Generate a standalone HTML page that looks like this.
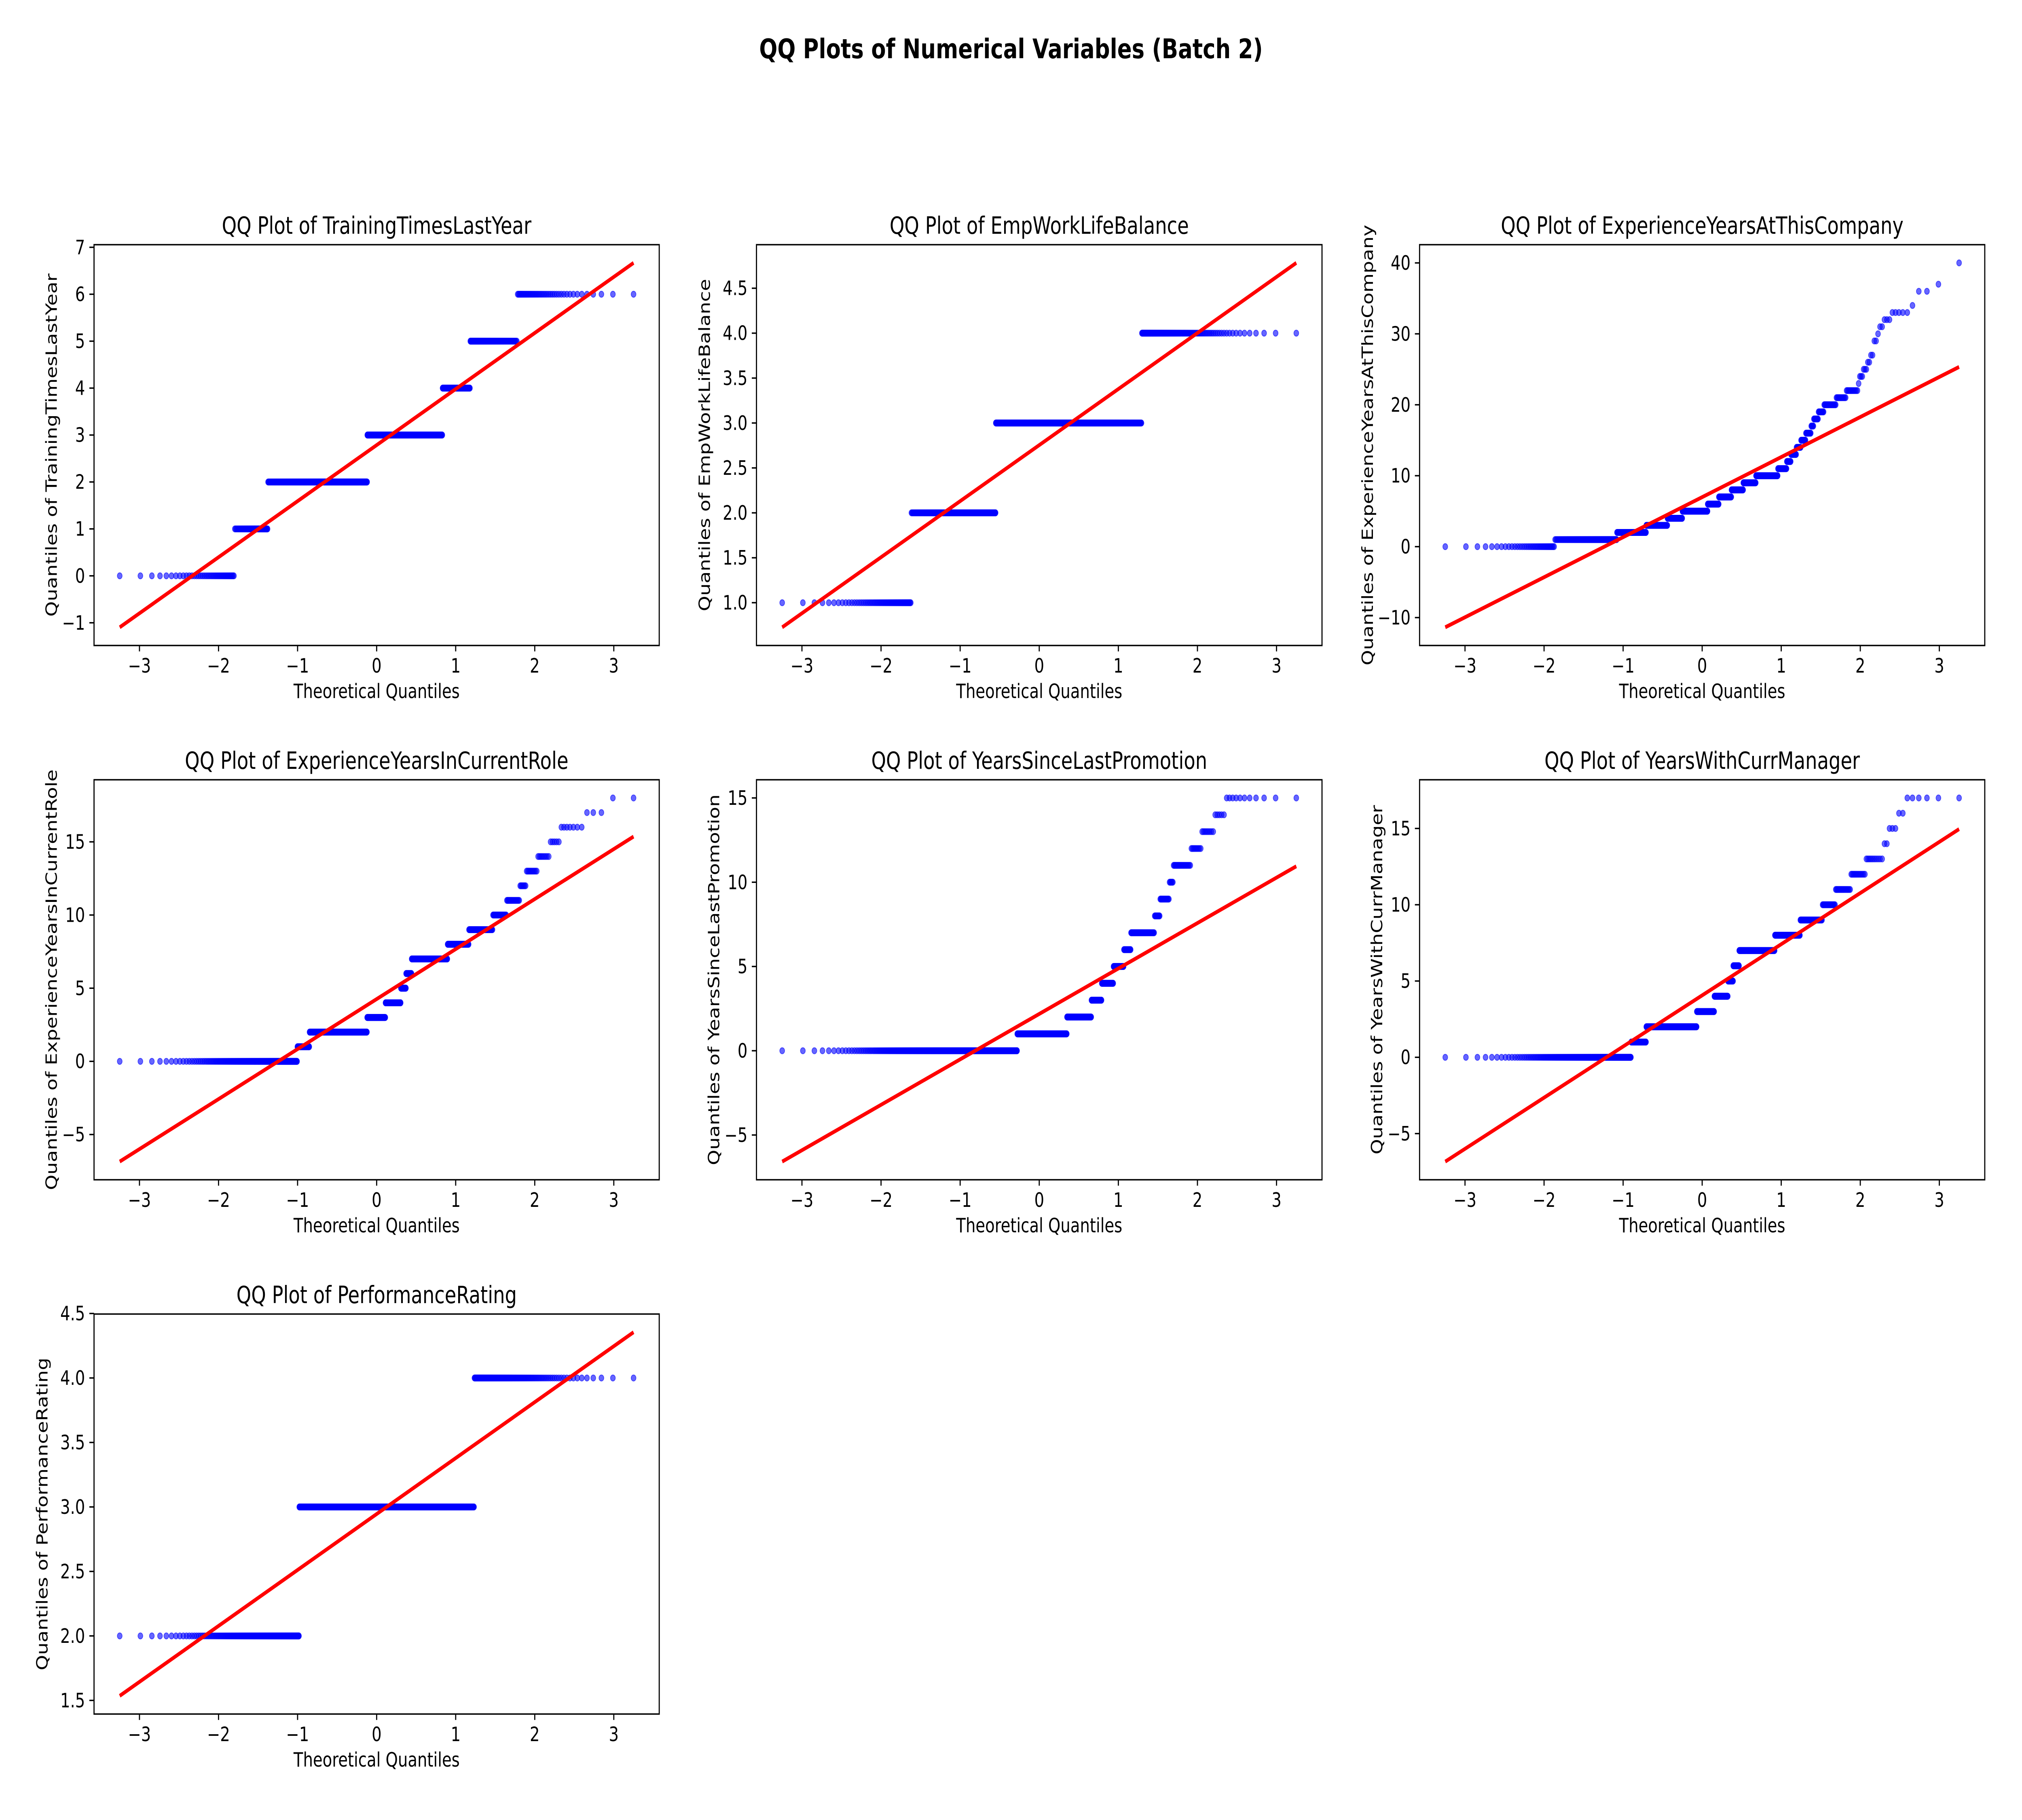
<!DOCTYPE html>
<html><head><meta charset="utf-8"><title>QQ Plots of Numerical Variables (Batch 2)</title>
<style>
html,body{margin:0;padding:0;background:#fff;width:100%;height:100%;overflow:hidden;}
svg{display:block;width:100vw;height:100vh;font-family:"DejaVu Sans","Liberation Sans",sans-serif;}
</style></head>
<body>
<svg id="fig" xmlns="http://www.w3.org/2000/svg" viewBox="0 0 6300 4500" preserveAspectRatio="none">
<rect x="0" y="0" width="6300" height="4500" fill="#fff"/>
<text x="3150" y="144" text-anchor="middle" font-size="66.7" font-weight="bold">QQ Plots of Numerical Variables (Batch 2)</text>
</svg>
<script>
// ---- data: counts of each observed value (per variable) ----
const trainingValues = [0,1,2,3,4,5,6];
const trainingCounts = [43,58,442,414,101,97,45];
const trainingTicks = [-1,0,1,2,3,4,5,6,7];

const wlbValues = [1,2,3,4];
const wlbCounts = [63,286,734,117];
const wlbTicks = [1.0,1.5,2.0,2.5,3.0,3.5,4.0,4.5];

const companyValues = [0,1,2,3,4,5,6,7,8,9,10,11,12,13,14,15,16,17,18,19,20,21,22,23,24,25,26,27,29,30,31,32,33,34,36,37,40];
const companyCounts = [37,131,119,109,85,152,67,73,65,64,95,32,14,17,13,13,13,6,10,11,20,13,12,1,3,3,2,2,2,1,2,3,5,1,2,1,1];
const companyTicks = [-10,0,10,20,30,40];

const roleValues = [0,1,2,3,4,5,6,7,8,9,10,11,12,13,14,15,16,17,18];
const roleCounts = [189,48,305,111,91,30,31,173,76,61,25,18,7,10,8,5,7,3,2];
const roleTicks = [-5,0,5,10,15];

const promoValues = [0,1,2,3,4,5,6,7,8,9,10,11,12,13,14,15];
const promoCounts = [468,296,130,48,49,38,23,61,11,16,6,21,9,8,5,11];
const promoTicks = [-5,0,5,10,15];

const mgrValues = [0,1,2,3,4,5,6,7,8,9,10,11,12,13,14,15,16,17];
const mgrCounts = [221,66,280,106,80,30,33,169,86,52,22,19,13,10,2,3,2,6];
const mgrTicks = [-5,0,5,10,15];

const perfValues = [2,3,4];
const perfCounts = [196,874,130];
const perfTicks = [1.5,2.0,2.5,3.0,3.5,4.0,4.5];

const xTicks = [-3,-2,-1,0,1,2,3];

const plots = [
  {name:'TrainingTimesLastYear', slug:'training-times', values:trainingValues, counts:trainingCounts, ticks:trainingTicks, dec:0, col:0,row:0},
  {name:'EmpWorkLifeBalance', slug:'work-life-balance', values:wlbValues, counts:wlbCounts, ticks:wlbTicks, dec:1, col:1,row:0},
  {name:'ExperienceYearsAtThisCompany', slug:'years-at-company', values:companyValues, counts:companyCounts, ticks:companyTicks, dec:0, col:2,row:0},
  {name:'ExperienceYearsInCurrentRole', slug:'years-in-role', values:roleValues, counts:roleCounts, ticks:roleTicks, dec:0, col:0,row:1},
  {name:'YearsSinceLastPromotion', slug:'years-since-promotion', values:promoValues, counts:promoCounts, ticks:promoTicks, dec:0, col:1,row:1},
  {name:'YearsWithCurrManager', slug:'years-with-manager', values:mgrValues, counts:mgrCounts, ticks:mgrTicks, dec:0, col:2,row:1},
  {name:'PerformanceRating', slug:'performance-rating', values:perfValues, counts:perfCounts, ticks:perfTicks, dec:1, col:0,row:2}
];

// ---- layout ----
const colX = [[293,2054],[2357,4119],[4423,6184]];
const rowY = [[605,1596],[1928,2917],[3249,4238]];
const FS = 48.6;
const NS = 'http://www.w3.org/2000/svg';
const fig = document.getElementById('fig');

function mk(tag, attrs, parent){
  const e = document.createElementNS(NS, tag);
  for (const k in attrs) e.setAttribute(k, attrs[k]);
  (parent||fig).appendChild(e);
  return e;
}

// inverse normal CDF (Acklam)
function ppf(p){
  const a=[-3.969683028665376e+01,2.209460984245205e+02,-2.759285104469687e+02,1.383577518672690e+02,-3.066479806614716e+01,2.506628277459239e+00];
  const b=[-5.447609879822406e+01,1.615858368580409e+02,-1.556989798598866e+02,6.680131188771972e+01,-1.328068155288572e+01];
  const c=[-7.784894002430293e-03,-3.223964580411365e-01,-2.400758277161838e+00,-2.549732539343734e+00,4.374664141464968e+00,2.938163982698783e+00];
  const d=[7.784695709041462e-03,3.224671290700398e-01,2.445134137142996e+00,3.754408661907416e+00];
  const pl=0.02425;
  let q,r;
  if(p<pl){q=Math.sqrt(-2*Math.log(p));return (((((c[0]*q+c[1])*q+c[2])*q+c[3])*q+c[4])*q+c[5])/((((d[0]*q+d[1])*q+d[2])*q+d[3])*q+1);}
  if(p>1-pl){q=Math.sqrt(-2*Math.log(1-p));return -(((((c[0]*q+c[1])*q+c[2])*q+c[3])*q+c[4])*q+c[5])/((((d[0]*q+d[1])*q+d[2])*q+d[3])*q+1);}
  q=p-0.5;r=q*q;
  return (((((a[0]*r+a[1])*r+a[2])*r+a[3])*r+a[4])*r+a[5])*q/(((((b[0]*r+b[1])*r+b[2])*r+b[3])*r+b[4])*r+1);
}
function fmt(v,dec){ const s=v.toFixed(dec); return v<0 ? '\u2212'+s.slice(1) : s; }

plots.forEach(p=>{
  const L=colX[p.col][0], R=colX[p.col][1], T=rowY[p.row][0], B=rowY[p.row][1];
  const g = mk('g',{});
  
  

  const ys=[];
  p.values.forEach((v,i)=>{ for(let k=0;k<p.counts[i];k++) ys.push(v); });
  ys.sort((a,b)=>a-b);
  const n=ys.length;
  const mN=Math.pow(0.5,1/n), m1=1-mN;
  const xs=[];
  for(let i=0;i<n;i++){
    let m;
    if(i===0) m=m1; else if(i===n-1) m=mN; else m=(i+1-0.3175)/(n+0.365);
    xs.push(ppf(m));
  }
  let sx=0,sy=0; for(let i=0;i<n;i++){sx+=xs[i];sy+=ys[i];}
  const mx=sx/n,my=sy/n; let sxx=0,sxy=0;
  for(let i=0;i<n;i++){sxx+=(xs[i]-mx)*(xs[i]-mx);sxy+=(xs[i]-mx)*(ys[i]-my);}
  const slope=sxy/sxx, icpt=my-slope*mx;
  const x0=xs[0], x1=xs[n-1];
  const l0=icpt+slope*x0, l1=icpt+slope*x1;
  let xmin=x0,xmax=x1; const xm=(xmax-xmin)*0.05; xmin-=xm; xmax+=xm;
  let ymin=Math.min(ys[0],l0,l1), ymax=Math.max(ys[n-1],l0,l1);
  const ym=(ymax-ymin)*0.05; ymin-=ym; ymax+=ym;
  const sxf=v=>L+(v-xmin)/(xmax-xmin)*(R-L);
  const syf=v=>B-(v-ymin)/(ymax-ymin)*(B-T);

  const cid='clip-'+p.slug;
  const cp=mk('clipPath',{id:cid},g);
  mk('rect',{x:L,y:T,width:R-L,height:B-T},cp);

  const pts=mk('g',{'clip-path':'url(#'+cid+')'},g);
  
  
  for(let i=0;i<n;i++){
    mk('circle',{cx:sxf(xs[i]).toFixed(1),cy:syf(ys[i]).toFixed(1),r:7.5,fill:'#0000ff','fill-opacity':0.6,stroke:'#0000ff','stroke-opacity':0.6,'stroke-width':2},pts);
  }
  const ln=mk('line',{x1:sxf(x0),y1:syf(l0),x2:sxf(x1),y2:syf(l1),stroke:'#ff0000','stroke-width':9.5,'clip-path':'url(#'+cid+')'},g);
  
  

  const fr=mk('rect',{x:L,y:T,width:R-L,height:B-T,fill:'none',stroke:'#000','stroke-width':3.5},g);
  
  

  xTicks.forEach(t=>{
    const x=sxf(t);
    mk('line',{x1:x,y1:B,x2:x,y2:B+14.6,stroke:'#000','stroke-width':3.5},g);
    const tx=mk('text',{x:x,y:B+67,'text-anchor':'middle','font-size':FS},g);
    
    
    tx.textContent=fmt(t,0);
  });
  let maxW=0;
  p.ticks.forEach(t=>{
    const y=syf(t);
    mk('line',{x1:L,y1:y,x2:L-14.6,y2:y,stroke:'#000','stroke-width':3.5},g);
    const ty=mk('text',{x:L-28,y:y+17,'text-anchor':'end','font-size':FS},g);
    
    
    ty.textContent=fmt(t,p.dec);
    const w=(ty.textContent.length)*29;
    maxW=Math.max(maxW, w);
  });
  const xl=mk('text',{x:(L+R)/2,y:B+130,'text-anchor':'middle','font-size':FS},g);
  
  
  xl.textContent='Theoretical Quantiles';
  const ylx=L-28-maxW-30;
  const yl=mk('text',{x:ylx,y:(T+B)/2,'text-anchor':'middle','font-size':FS,transform:'rotate(-90 '+ylx+' '+((T+B)/2)+')'},g);
  
  
  yl.textContent='Quantiles of '+p.name;
  const tt=mk('text',{x:(L+R)/2,y:T-27,'text-anchor':'middle','font-size':58.5},g);
  
  
  tt.textContent='QQ Plot of '+p.name;
});
</script>
</body></html>
